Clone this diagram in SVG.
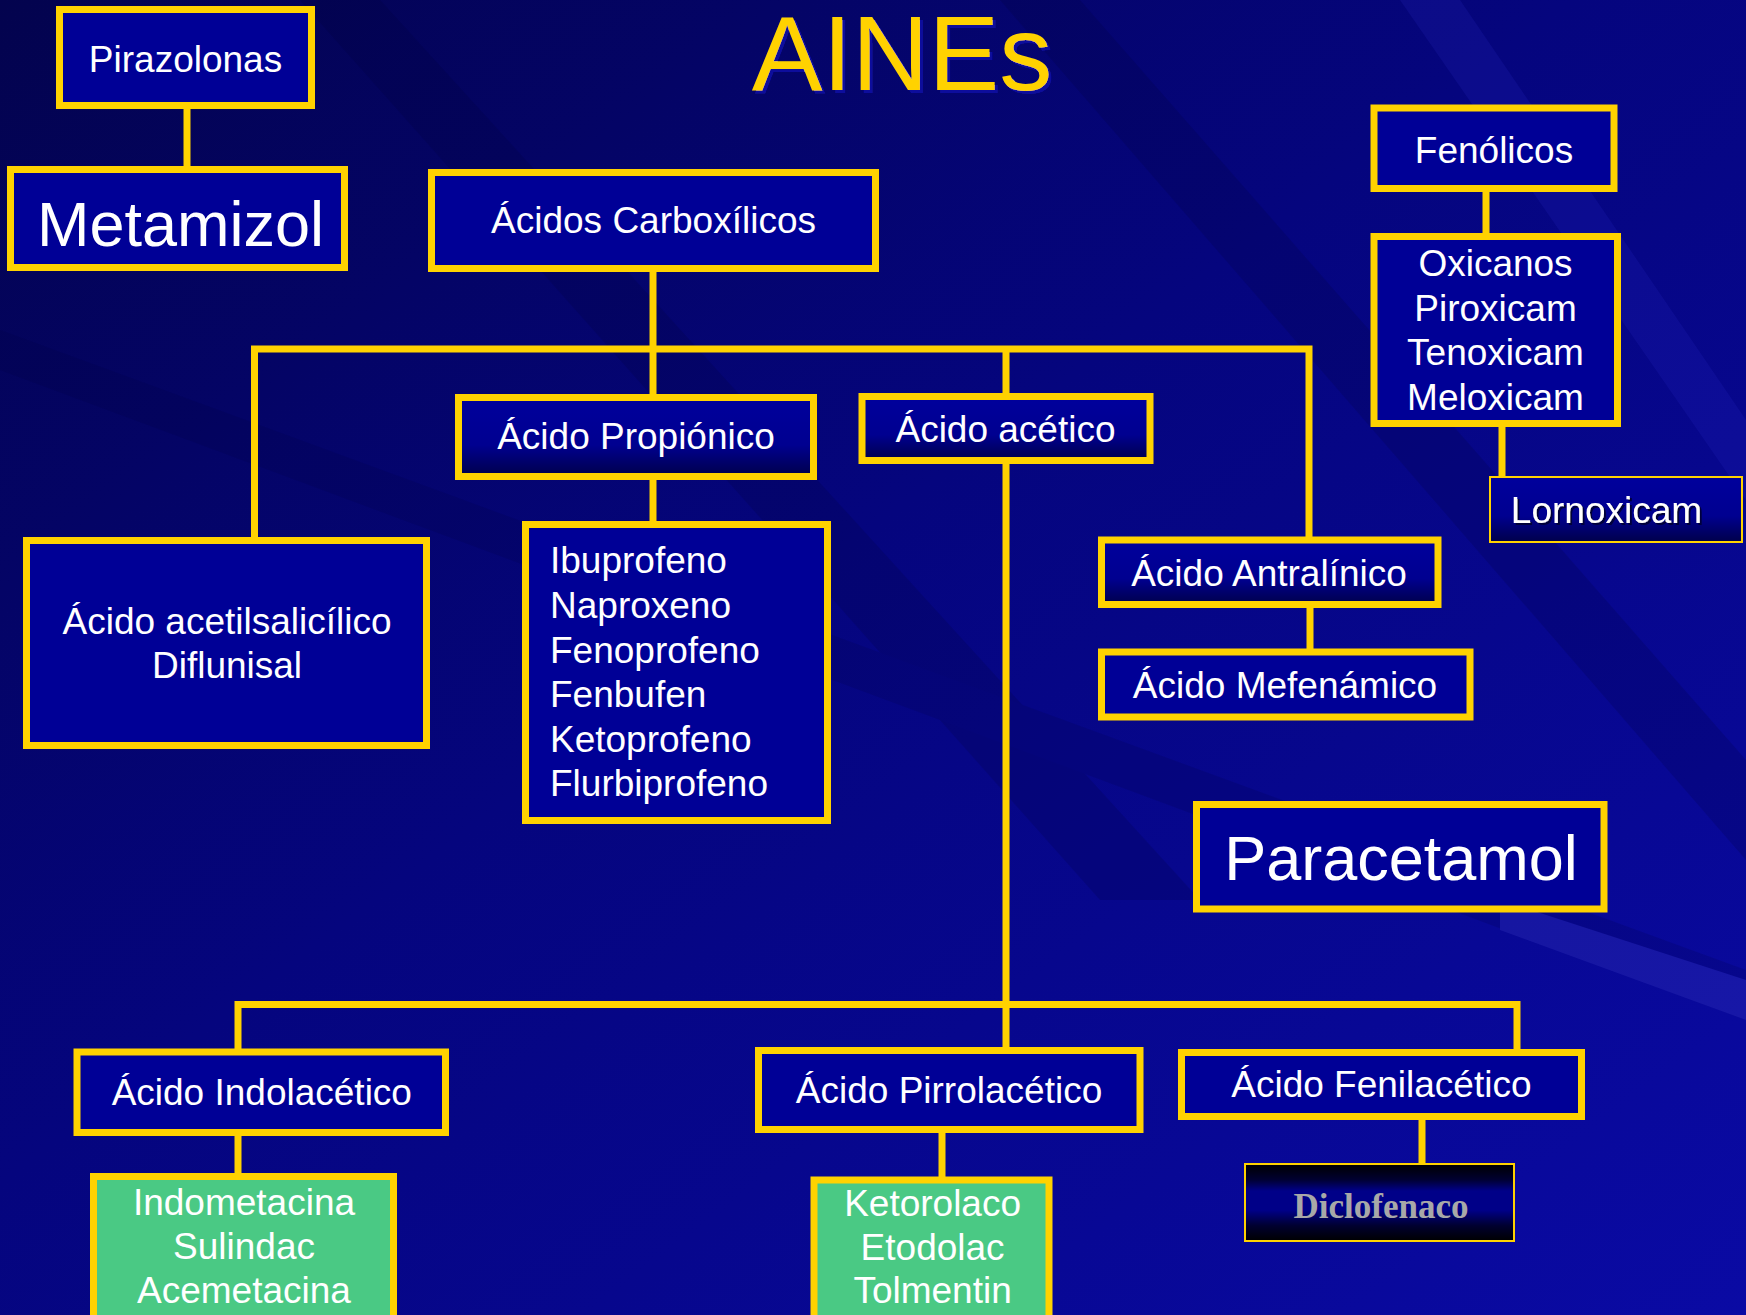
<svg xmlns="http://www.w3.org/2000/svg" width="1746" height="1315" viewBox="0 0 1746 1315">
<defs>
<linearGradient id="bg" x1="0" y1="0" x2="1" y2="1">
<stop offset="0" stop-color="#03034E"/>
<stop offset="0.45" stop-color="#05057E"/>
<stop offset="1" stop-color="#0A0AA4"/>
</linearGradient>
<linearGradient id="shade" x1="0" y1="0" x2="0" y2="1">
<stop offset="0" stop-color="#00009C"/>
<stop offset="0.6" stop-color="#000090"/>
<stop offset="1" stop-color="#00004A"/>
</linearGradient>
<linearGradient id="dic" x1="0" y1="0" x2="0" y2="1">
<stop offset="0" stop-color="#000000"/>
<stop offset="0.2" stop-color="#000030"/>
<stop offset="0.35" stop-color="#000088"/>
<stop offset="0.6" stop-color="#000088"/>
<stop offset="0.8" stop-color="#000030"/>
<stop offset="1" stop-color="#000000"/>
</linearGradient>
<filter id="ds" x="-5%" y="-5%" width="115%" height="120%">
<feDropShadow dx="3" dy="3" stdDeviation="0" flood-color="#0A0A9C" flood-opacity="1"/>
</filter>
<filter id="ds2" x="-5%" y="-5%" width="115%" height="120%">
<feDropShadow dx="2" dy="2" stdDeviation="0" flood-color="#00003A" flood-opacity="1"/>
</filter>
<style>
.box{fill:#000096;stroke:#FFD200;stroke-width:7}
.sh{fill:url(#shade);stroke:#FFD200;stroke-width:7}
.thin{stroke:#FFD200;stroke-width:2}
.green{fill:#4AC984;stroke:#FFD200;stroke-width:7}
.t{font-family:"Liberation Sans",Arial,sans-serif;font-size:37px;fill:#FFFFFF;text-anchor:middle}
.l{text-anchor:start}
.big{font-size:63px}
.con{stroke:#FFD200;stroke-width:7;fill:none}
</style>
</defs>
<rect width="1746" height="1315" fill="url(#bg)"/>
<g opacity="0.16">
<polygon points="1000,0 1080,0 1746,760 1746,860" fill="#000030"/>
<polygon points="300,0 380,0 1200,900 1100,900" fill="#000030"/>
<polygon points="0,330 0,370 1746,1020 1746,970" fill="#000040"/>
<polygon points="1400,0 1460,0 1746,420 1746,500" fill="#3030D0"/>
<polygon points="1500,900 1746,980 1746,1020 1500,930" fill="#6060E0"/>
</g>
<text x="902" y="90" font-family="'Liberation Sans',Arial,sans-serif" font-size="106" fill="#FFD200" text-anchor="middle" filter="url(#ds)">AINEs</text>
<g id="connectors">
<line class="con" x1="187" y1="109" x2="187" y2="166"/>
<line class="con" x1="653" y1="272" x2="653" y2="394"/>
<polyline class="con" points="254.5,537 254.5,349 1309,349 1309,537"/>
<line class="con" x1="1006" y1="349" x2="1006" y2="393"/>
<line class="con" x1="653" y1="480" x2="653" y2="521"/>
<line class="con" x1="1486" y1="192" x2="1486" y2="233"/>
<line class="con" x1="1502" y1="427" x2="1502" y2="476"/>
<line class="con" x1="1310" y1="608" x2="1310" y2="649"/>
<line class="con" x1="1006" y1="464" x2="1006" y2="1056"/>
<polyline class="con" points="238,1049 238,1004.5 1517,1004.5 1517,1049"/>
<line class="con" x1="238" y1="1136" x2="238" y2="1173"/>
<line class="con" x1="942" y1="1133" x2="942" y2="1177"/>
<line class="con" x1="1422" y1="1120" x2="1422" y2="1163"/>
</g>
<g id="pirazolonas"><rect class="box" x="59.5" y="9.5" width="252" height="96"/><text class="t" x="185.5" y="72">Pirazolonas</text></g>
<g id="metamizol"><rect class="box" x="10.5" y="169.5" width="334" height="98"/><text class="t big" x="180.5" y="246">Metamizol</text></g>
<g id="carboxilicos"><rect class="box" x="431.5" y="172.5" width="444" height="96"/><text class="t" x="653.5" y="233">Ácidos Carboxílicos</text></g>
<g id="aspirina"><rect class="box" x="26.5" y="540.5" width="400" height="205"/><text class="t" x="227" y="634">Ácido acetilsalicílico</text><text class="t" x="227" y="678">Diflunisal</text></g>
<g id="propionico"><rect class="sh" x="458.5" y="397.5" width="355" height="79"/><text class="t" x="636" y="449">Ácido Propiónico</text></g>
<g id="propionicos-lista"><rect class="box" x="525.5" y="524.5" width="302" height="296"/>
<text class="t l" x="550" y="573">Ibuprofeno</text>
<text class="t l" x="550" y="618">Naproxeno</text>
<text class="t l" x="550" y="662.5">Fenoprofeno</text>
<text class="t l" x="550" y="707">Fenbufen</text>
<text class="t l" x="550" y="752">Ketoprofeno</text>
<text class="t l" x="550" y="796">Flurbiprofeno</text></g>
<g id="acetico"><rect class="sh" x="862" y="396.5" width="288" height="64"/><text class="t" x="1005.5" y="442">Ácido acético</text></g>
<g id="fenolicos"><rect class="box" x="1374" y="108" width="240" height="80.5"/><text class="t" x="1494" y="162.5">Fenólicos</text></g>
<g id="oxicanos"><rect class="box" x="1374" y="236.5" width="243.5" height="187"/>
<text class="t" x="1495.5" y="276">Oxicanos</text>
<text class="t" x="1495.5" y="320.7">Piroxicam</text>
<text class="t" x="1495.5" y="365.4">Tenoxicam</text>
<text class="t" x="1495.5" y="410">Meloxicam</text></g>
<g id="lornoxicam"><rect class="thin" fill="url(#shade)" x="1490" y="477" width="252" height="65"/><text class="t" x="1606.5" y="523" filter="url(#ds2)">Lornoxicam</text></g>
<g id="antralinico"><rect class="sh" x="1101.5" y="540" width="336.5" height="64.5"/><text class="t" x="1269" y="585.7">Ácido Antralínico</text></g>
<g id="mefenamico"><rect class="box" x="1101.5" y="652" width="368.5" height="65"/><text class="t" x="1285" y="697.7">Ácido Mefenámico</text></g>
<g id="paracetamol"><rect class="box" x="1196.5" y="804.5" width="407.5" height="104.5"/><text class="t big" x="1401" y="880">Paracetamol</text></g>
<g id="indolacetico"><rect class="box" x="77" y="1052" width="368.5" height="80.5"/><text class="t" x="261.8" y="1105">Ácido Indolacético</text></g>
<g id="indol-lista"><rect class="green" x="93.5" y="1176.5" width="300" height="150"/>
<text class="t" x="244" y="1215">Indometacina</text>
<text class="t" x="244" y="1259">Sulindac</text>
<text class="t" x="244" y="1303">Acemetacina</text></g>
<g id="pirrolacetico"><rect class="box" x="758.5" y="1050.5" width="381.5" height="79"/><text class="t" x="949" y="1103">Ácido Pirrolacético</text></g>
<g id="pirrol-lista"><rect class="green" x="814" y="1180" width="235" height="150"/>
<text class="t" x="932.6" y="1215.7">Ketorolaco</text>
<text class="t" x="932.6" y="1260">Etodolac</text>
<text class="t" x="932.6" y="1303">Tolmentin</text></g>
<g id="fenilacetico"><rect class="box" x="1181.5" y="1052.5" width="400" height="64"/><text class="t" x="1381.4" y="1097">Ácido Fenilacético</text></g>
<g id="diclofenaco"><rect class="thin" fill="url(#dic)" x="1245" y="1164" width="269" height="77"/><text x="1381" y="1218" font-family="'Liberation Serif','Times New Roman',serif" font-weight="bold" font-size="35" fill="#A8A8A8" text-anchor="middle">Diclofenaco</text></g>
</svg>
